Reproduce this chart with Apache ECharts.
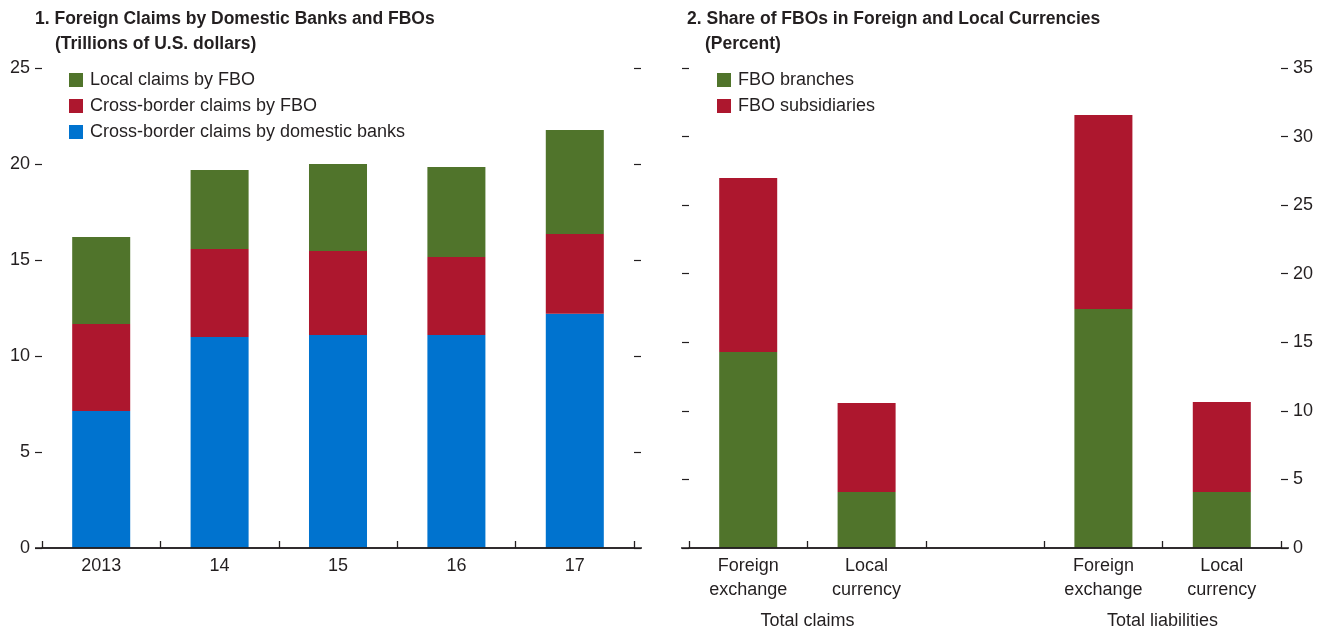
<!DOCTYPE html>
<html><head><meta charset="utf-8">
<script src="https://cdn.jsdelivr.net/npm/echarts@6/dist/echarts.min.js"></script>
<style>html,body{margin:0;padding:0;background:#fff}#c{width:1328px;height:634px}</style>
</head><body><div id="c"></div>
<script>
// Panel 1 data (trillions of U.S. dollars)
const years = ['2013', '14', '15', '16', '17'];
const domesticCross = [7.14, 10.99, 11.09, 11.09, 12.2];
const fboCross = [4.53, 4.58, 4.38, 4.07, 4.15];
const fboLocal = [4.53, 4.12, 4.53, 4.68, 5.42];
const leftAxis = { min: 0, max: 25, interval: 5 };

// Panel 2 data (percent)
const shareCats = ['Foreign\nexchange', 'Local\ncurrency', '', 'Foreign\nexchange', 'Local\ncurrency'];
const branches = [14.29, 4.08, null, 17.43, 4.08];
const subsidiaries = [12.69, 6.49, null, 14.14, 6.56];
const groupLabels = ['Total claims', 'Total liabilities'];
const groupPos = [1, 4];
const rightAxis = { min: 0, max: 35, interval: 5 };

const FONT = "'Liberation Sans', Arial, sans-serif";
const TXT = '#231f20';
const GREEN = '#50742b', RED = '#ad172e', BLUE = '#0073cf';
const FS = 18;

const G1 = { left: 42, top: 68, width: 592, height: 480 };
const G2 = { left: 689, top: 68, width: 592, height: 480 };

const titleStyle = { fontFamily: FONT, fontWeight: 'bold', fontSize: 17.5, lineHeight: 20, color: TXT };
const lblStyle = { fontFamily: FONT, fontSize: FS, color: TXT };

function yAx(grid, cfg, pos, showLabel) {
  return {
    type: 'value', gridIndex: grid, position: pos, min: cfg.min, max: cfg.max, interval: cfg.interval,
    axisLine: { show: false },
    axisTick: { show: true, inside: false, length: 7, lineStyle: { color: TXT, width: 1.2 } },
    splitLine: { show: false },
    axisLabel: Object.assign({ show: showLabel, margin: 12 }, lblStyle)
  };
}

const chart = echarts.init(document.getElementById('c'));
chart.setOption({
  animation: false,
  backgroundColor: '#fff',
  title: [
    { text: '1. Foreign Claims by Domestic Banks and FBOs', left: 35, top: 9, padding: 0, textStyle: titleStyle },
    { text: '(Trillions of U.S. dollars)', left: 55, top: 34, padding: 0, textStyle: titleStyle },
    { text: '2. Share of FBOs in Foreign and Local Currencies', left: 687, top: 9, padding: 0, textStyle: titleStyle },
    { text: '(Percent)', left: 705, top: 34, padding: 0, textStyle: titleStyle }
  ],
  legend: [
    { orient: 'vertical', left: 69, top: 71, padding: 0, itemWidth: 14, itemHeight: 14, itemGap: 8, icon: 'rect',
      data: ['Local claims by FBO', 'Cross-border claims by FBO', 'Cross-border claims by domestic banks'],
      textStyle: Object.assign({ lineHeight: 18, padding: [0, 0, 0, 2] }, lblStyle) },
    { orient: 'vertical', left: 717, top: 71, padding: 0, itemWidth: 14, itemHeight: 14, itemGap: 8, icon: 'rect',
      data: ['FBO branches', 'FBO subsidiaries'],
      textStyle: Object.assign({ lineHeight: 18, padding: [0, 0, 0, 2] }, lblStyle) }
  ],
  grid: [G1, G2],
  xAxis: [
    { type: 'category', gridIndex: 0, data: years, z: 5,
      axisLine: { lineStyle: { color: TXT, width: 1.5 } },
      axisTick: { show: true, inside: true, length: 7, interval: 0, lineStyle: { color: TXT, width: 1.3 } },
      axisLabel: Object.assign({ margin: 6, lineHeight: 24 }, lblStyle) },
    { type: 'category', gridIndex: 1, data: shareCats, z: 5,
      axisLine: { lineStyle: { color: TXT, width: 1.5 } },
      axisTick: { show: true, inside: true, length: 7, interval: 0, lineStyle: { color: TXT, width: 1.3 } },
      axisLabel: Object.assign({ margin: 6, lineHeight: 24, interval: 0 }, lblStyle) },
    { type: 'value', gridIndex: 1, min: 0, max: 5, position: 'bottom',
      axisLine: { show: false }, axisTick: { show: false }, splitLine: { show: false },
      axisLabel: Object.assign({ margin: 61, lineHeight: 24, customValues: groupPos,
        formatter: function (v) { return groupLabels[groupPos.indexOf(v)] || ''; } }, lblStyle) }
  ],
  yAxis: [
    yAx(0, leftAxis, 'left', true),
    yAx(0, leftAxis, 'right', false),
    yAx(1, rightAxis, 'left', false),
    yAx(1, rightAxis, 'right', true)
  ],
  series: [
    { name: 'Cross-border claims by domestic banks', type: 'bar', stack: 'a', xAxisIndex: 0, yAxisIndex: 0,
      barWidth: '49%', itemStyle: { color: BLUE }, data: domesticCross },
    { name: 'Cross-border claims by FBO', type: 'bar', stack: 'a', xAxisIndex: 0, yAxisIndex: 0,
      barWidth: '49%', itemStyle: { color: RED }, data: fboCross },
    { name: 'Local claims by FBO', type: 'bar', stack: 'a', xAxisIndex: 0, yAxisIndex: 0,
      barWidth: '49%', itemStyle: { color: GREEN }, data: fboLocal },
    { name: 'FBO branches', type: 'bar', stack: 'b', xAxisIndex: 1, yAxisIndex: 2,
      barWidth: '49%', itemStyle: { color: GREEN }, data: branches },
    { name: 'FBO subsidiaries', type: 'bar', stack: 'b', xAxisIndex: 1, yAxisIndex: 2,
      barWidth: '49%', itemStyle: { color: RED }, data: subsidiaries }
  ]
});

// extend the baseline slightly past the outer ticks, as in the original
const y0a = chart.convertToPixel({ yAxisIndex: 0 }, 0);
const y0b = chart.convertToPixel({ yAxisIndex: 2 }, 0);
chart.setOption({
  graphic: [
    { type: 'line', silent: true, z: 4, shape: { x1: G1.left - 7, y1: y0a, x2: G1.left + G1.width + 8, y2: y0a },
      style: { stroke: TXT, lineWidth: 1.5 } },
    { type: 'line', silent: true, z: 4, shape: { x1: G2.left - 8, y1: y0b, x2: G2.left + G2.width + 8, y2: y0b },
      style: { stroke: TXT, lineWidth: 1.5 } }
  ]
});
</script></body></html>
